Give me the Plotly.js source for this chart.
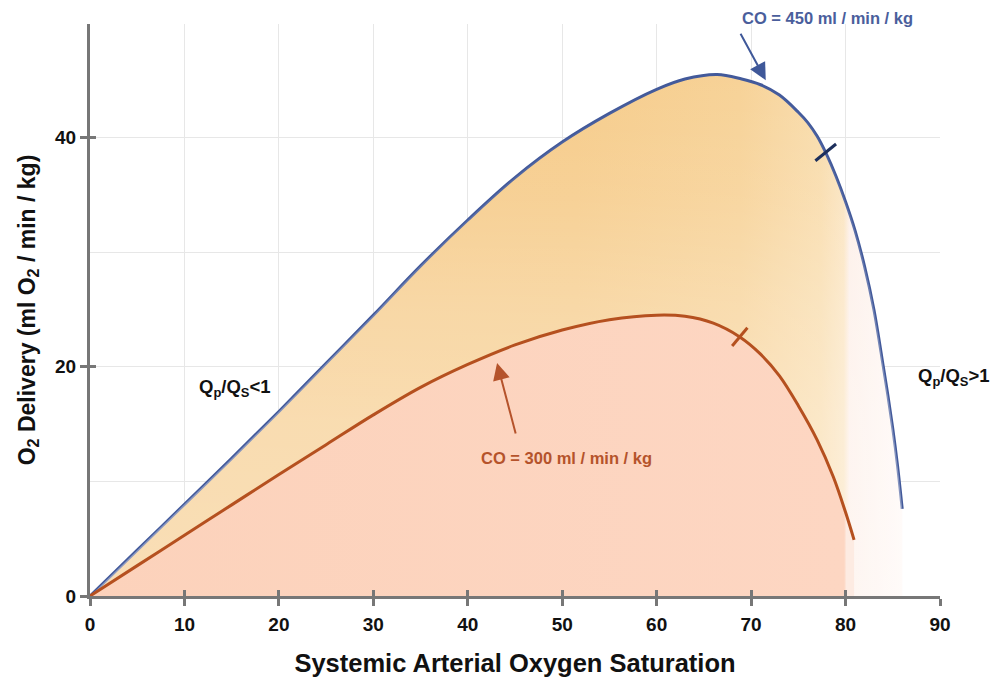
<!DOCTYPE html>
<html>
<head>
<meta charset="utf-8">
<script src="https://cdn.plot.ly/plotly-3.0.1.min.js"></script>
<style>html,body{margin:0;padding:0;background:#fff;}#chart{width:990px;height:680px;}</style>
</head>
<body>
<div id="chart"></div>
<script>
// Systemic arterial O2 saturation (%) and O2 delivery (ml O2 / min / kg)
const satCO450 = [0, 5, 10, 15, 20, 25, 30, 35, 40, 45, 50, 55, 60, 63, 66.4, 69, 71, 73, 75, 76, 77, 78, 79, 80, 81, 82, 83, 84, 84.5, 85, 85.5, 86];
const delCO450 = [0, 4.0, 8.0, 12.0, 16.1, 20.3, 24.5, 28.8, 32.8, 36.5, 39.6, 42.1, 44.2, 45.1, 45.5, 45.1, 44.6, 43.7, 42.2, 41.3, 40.1, 38.5, 36.6, 34.4, 31.9, 28.8, 25.0, 20.0, 17.4, 14.6, 11.4, 7.6];

const satCO300 = [0, 5, 10, 15, 20, 25, 30, 35, 40, 45, 50, 55, 60, 63, 66, 68.8, 71, 73, 75, 77, 78.7, 80, 80.9];
const delCO300 = [0, 2.65, 5.3, 7.95, 10.6, 13.2, 15.8, 18.2, 20.2, 21.9, 23.2, 24.1, 24.5, 24.4, 23.8, 22.6, 21.1, 19.2, 16.6, 13.6, 10.4, 7.3, 4.9];

// marks on the curves (Qp/Qs = 1 points)
const markSat = [77.9, 68.8];
const markDel = [38.7, 22.6];

const xTicks = [0, 10, 20, 30, 40, 50, 60, 70, 80, 90];
const yTicks = [0, 20, 40];

const labels = {
  co450: 'CO = 450 ml / min / kg',
  co300: 'CO = 300 ml / min / kg',
  low: 'Q<sub>p</sub>/Q<sub>S</sub>&lt;1',
  high: 'Q<sub>p</sub>/Q<sub>S</sub>&gt;1',
  xTitle: 'Systemic Arterial Oxygen Saturation',
  yTitle: 'O<sub>2</sub> Delivery (ml O<sub>2</sub> / min / kg)'
};

const BLUE = '#42599a';
const RED = '#b5501f';
const AXIS = '#777777';
const GRID = '#e7e7e7';
const FONT = 'Liberation Sans, Arial, sans-serif';
const SMOOTH = 1;

const traces = [
  {
    x: satCO450, y: delCO450, type: 'scatter', mode: 'lines',
    line: {color: BLUE, width: 3, shape: 'spline', smoothing: SMOOTH},
    fill: 'tozeroy',
    fillgradient: {
      type: 'horizontal', start: 0, stop: 86,
      colorscale: [[0, '#f6c986'], [0.6, '#f6cc8b'], [0.8, '#f7d297'], [0.9, '#f9dcac'], [0.928, '#fbe4c0'], [0.935, '#fdefe8'], [1, '#fff8f5']]
    },
    hoverinfo: 'skip'
  },
  {
    x: satCO450, y: delCO450, type: 'scatter', mode: 'none',
    line: {shape: 'spline', smoothing: SMOOTH},
    fill: 'tozeroy',
    fillgradient: {
      type: 'vertical', start: 0, stop: 46,
      colorscale: [[0, 'rgba(255,255,255,0.4)'], [0.33, 'rgba(255,255,255,0.34)'], [0.55, 'rgba(255,255,255,0.24)'], [0.76, 'rgba(255,255,255,0.1)'], [1, 'rgba(255,255,255,0)']]
    },
    hoverinfo: 'skip'
  },
  {
    x: satCO300, y: delCO300, type: 'scatter', mode: 'lines',
    line: {color: RED, width: 3, shape: 'spline', smoothing: SMOOTH},
    fill: 'tozeroy',
    fillgradient: {
      type: 'horizontal', start: 0, stop: 80.9,
      colorscale: [[0, '#fcd2bb'], [0.987, '#fdd6c2'], [0.99, '#fdebe2'], [1, '#fdebe2']]
    },
    hoverinfo: 'skip'
  },
  {
    x: [markSat[0]], y: [markDel[0]], type: 'scatter', mode: 'markers',
    xaxis: 'x2', yaxis: 'y2',
    marker: {symbol: 'line-ew', size: 19, angle: -39, line: {color: '#1d2f5c', width: 3}},
    hoverinfo: 'skip'
  },
  {
    x: [markSat[1]], y: [markDel[1]], type: 'scatter', mode: 'markers',
    xaxis: 'x2', yaxis: 'y2',
    marker: {symbol: 'line-ew', size: 17, angle: -50, line: {color: RED, width: 3}},
    hoverinfo: 'skip'
  }
];

const baseX = {range: [0, 90], tickvals: xTicks, zeroline: false};
const baseY = {range: [0, 49.9], tickvals: yTicks, zeroline: false};

const layout = {
  width: 990, height: 680,
  margin: {l: 90, r: 50, t: 24, b: 84},
  paper_bgcolor: '#ffffff', plot_bgcolor: '#ffffff',
  showlegend: false,
  font: {family: FONT, color: '#111'},
  xaxis: Object.assign({}, baseX, {
    showgrid: true, gridcolor: GRID, gridwidth: 1,
    showline: true, linecolor: AXIS, linewidth: 3,
    ticks: 'outside', ticklen: 7, tickwidth: 3, tickcolor: AXIS,
    tickfont: {family: FONT, size: 19, weight: 'bold', color: '#111'},
    ticklabelstandoff: 2,
    title: {text: labels.xTitle, font: {family: FONT, size: 25.5, weight: 'bold', color: '#111'}, standoff: 21}
  }),
  yaxis: Object.assign({}, baseY, {
    showgrid: true, gridcolor: GRID, gridwidth: 1,
    minor: {dtick: 10, tick0: 0, showgrid: true, gridcolor: GRID, gridwidth: 1, ticks: ''},
    showline: true, linecolor: AXIS, linewidth: 3,
    ticks: 'outside', ticklen: 7, tickwidth: 3, tickcolor: AXIS,
    tickfont: {family: FONT, size: 19, weight: 'bold', color: '#111'},
    ticklabelstandoff: 0,
    title: {text: labels.yTitle, font: {family: FONT, size: 23, weight: 'bold', color: '#111'}, standoff: 14}
  }),
  xaxis2: Object.assign({}, baseX, {
    overlaying: 'x', matches: 'x', anchor: 'y', side: 'bottom',
    showgrid: false, showline: false, showticklabels: false,
    ticks: 'inside', ticklen: 6, tickwidth: 3, tickcolor: AXIS
  }),
  yaxis2: Object.assign({}, baseY, {
    overlaying: 'y', matches: 'y', anchor: 'x', side: 'left',
    showgrid: false, showline: false, showticklabels: false,
    ticks: 'inside', ticklen: 6, tickwidth: 3, tickcolor: AXIS
  }),
  annotations: [
    {x: 78.1, y: 1.011, xref: 'x', yref: 'paper', text: labels.co450, showarrow: false,
     font: {family: FONT, size: 16.5, weight: 'bold', color: '#4a5e9c'}, xanchor: 'center', yanchor: 'middle'},
    {x: 71.55, y: 45.0, xref: 'x', yref: 'y', text: '', showarrow: true,
     ax: -26, ay: -48, arrowhead: 2, arrowsize: 1.7, arrowwidth: 2, arrowcolor: '#3f5899', standoff: 0},
    {x: 50.5, y: 12.0, xref: 'x', yref: 'y', text: labels.co300, showarrow: false,
     font: {family: FONT, size: 16.5, weight: 'bold', color: '#b5532b'}, xanchor: 'center', yanchor: 'middle'},
    {x: 43.1, y: 20.33, xref: 'x', yref: 'y', text: '', showarrow: true,
     ax: 19, ay: 72, arrowhead: 2, arrowsize: 1.7, arrowwidth: 2, arrowcolor: '#b5532b', standoff: 0},
    {x: 15.4, y: 18.15, xref: 'x', yref: 'y', text: labels.low, showarrow: false,
     font: {family: FONT, size: 18.5, weight: 'bold', color: '#111'}, xanchor: 'center', yanchor: 'middle'},
    {x: 87.5, y: 19.1, xref: 'x', yref: 'y', text: labels.high, showarrow: false,
     font: {family: FONT, size: 18.5, weight: 'bold', color: '#111'}, xanchor: 'left', yanchor: 'middle'}
  ]
};

Plotly.newPlot('chart', traces, layout, {displayModeBar: false, staticPlot: true});
</script>
</body>
</html>
